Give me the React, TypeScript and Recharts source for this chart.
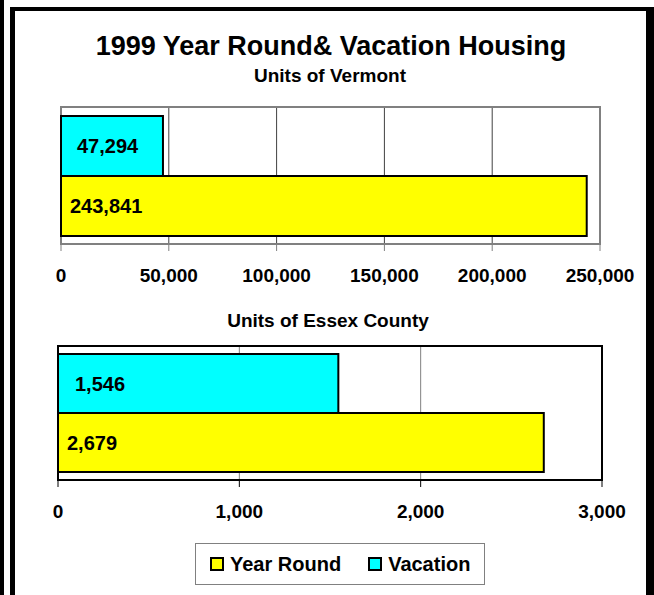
import React from 'react';
import { BarChart, Bar, XAxis, YAxis, CartesianGrid, ReferenceArea, LabelList } from 'recharts';

const regions = ['Vermont', 'Essex County'];
const yearRoundUnits = [243841, 2679];
const vacationUnits = [47294, 1546];
const seriesNames = ['Year Round', 'Vacation'];
const seriesColors = ['#ffff00', '#00ffff'];
const vermontTicks = [0, 50000, 100000, 150000, 200000, 250000];
const essexTicks = [0, 1000, 2000, 3000];

const FONT = '"Liberation Sans", Arial, sans-serif';
const fmt = (v: any) => Number(v).toLocaleString('en-US');

const vermontData = [{ name: regions[0], yearRound: yearRoundUnits[0], vacation: vacationUnits[0] }];
const essexData = [{ name: regions[1], yearRound: yearRoundUnits[1], vacation: vacationUnits[1] }];

const labelStyle = { fill: '#000', fontSize: 20, fontWeight: 700, fontFamily: FONT };
const tickStyle = { fill: '#000', fontSize: 19, fontWeight: 700, fontFamily: FONT };

export default function App() {
  return (
    <div style={{ position: 'absolute', left: 0, top: 0, width: 654, height: 595, overflow: 'hidden', background: '#fff', fontFamily: FONT }}>
      <div style={{ position: 'absolute', left: 0, top: 0, width: 4, height: 595, background: '#000' }} />
      <div style={{ position: 'absolute', left: 10, top: 7, width: 631, height: 620, borderTop: '4px solid #000', borderLeft: '5px solid #000', borderRight: '8px solid #000', background: '#fff' }} />

      <svg width={654} height={595} style={{ position: 'absolute', left: 0, top: 0 }}>
        <text x={331} y={55} textAnchor="middle" fontSize={27} fontWeight={700} fontFamily={FONT}>1999 Year Round&amp; Vacation Housing</text>
        <text x={330} y={82} textAnchor="middle" fontSize={19} fontWeight={700} fontFamily={FONT}>Units of {regions[0]}</text>
        <text x={328} y={327} textAnchor="middle" fontSize={19} fontWeight={700} fontFamily={FONT}>Units of {regions[1]}</text>
      </svg>

      <div style={{ position: 'absolute', left: 0, top: 0 }}>
        <BarChart width={654} height={300} data={vermontData} layout="vertical"
          margin={{ top: 107, right: 54, bottom: 16, left: 61 }} barCategoryGap={9} barGap={0}>
          <CartesianGrid horizontal={false} stroke="#404040" strokeWidth={1} />
          <XAxis type="number" domain={[0, 250000]} ticks={vermontTicks} tickFormatter={fmt} height={40}
            axisLine={{ stroke: '#808080', strokeWidth: 2 }} tickLine={{ stroke: '#808080' }} tickSize={7} tickMargin={18}
            tick={tickStyle} interval={0} />
          <YAxis type="category" dataKey="name" hide />
          <ReferenceArea x1={0} x2={250000} fill="none" stroke="#808080" strokeWidth={2} />
          <Bar dataKey="vacation" name={seriesNames[1]} fill={seriesColors[1]} stroke="#000" strokeWidth={2} isAnimationActive={false}>
            <LabelList dataKey="vacation" position="insideLeft" offset={16} formatter={fmt} style={labelStyle} />
          </Bar>
          <Bar dataKey="yearRound" name={seriesNames[0]} fill={seriesColors[0]} stroke="#000" strokeWidth={2} isAnimationActive={false}>
            <LabelList dataKey="yearRound" position="insideLeft" offset={9} formatter={fmt} style={labelStyle} />
          </Bar>
        </BarChart>
      </div>

      <div style={{ position: 'absolute', left: 0, top: 300 }}>
        <BarChart width={654} height={240} data={essexData} layout="vertical"
          margin={{ top: 46, right: 52, bottom: 20, left: 58 }} barCategoryGap={8} barGap={0}>
          <CartesianGrid horizontal={false} stroke="#808080" strokeWidth={1} />
          <XAxis type="number" domain={[0, 3000]} ticks={essexTicks} tickFormatter={fmt} height={40}
            axisLine={{ stroke: '#000', strokeWidth: 2 }} tickLine={{ stroke: '#000' }} tickSize={7} tickMargin={18}
            tick={tickStyle} interval={0} />
          <YAxis type="category" dataKey="name" hide />
          <ReferenceArea x1={0} x2={3000} fill="none" stroke="#000" strokeWidth={2} />
          <Bar dataKey="vacation" name={seriesNames[1]} fill={seriesColors[1]} stroke="#000" strokeWidth={2} isAnimationActive={false}>
            <LabelList dataKey="vacation" position="insideLeft" offset={17} formatter={fmt} style={labelStyle} />
          </Bar>
          <Bar dataKey="yearRound" name={seriesNames[0]} fill={seriesColors[0]} stroke="#000" strokeWidth={2} isAnimationActive={false}>
            <LabelList dataKey="yearRound" position="insideLeft" offset={9} formatter={fmt} style={labelStyle} />
          </Bar>
        </BarChart>
      </div>

      <div style={{ position: 'absolute', left: 195, top: 543, width: 290, height: 42, border: '1.5px solid #808080', display: 'flex', alignItems: 'center', paddingLeft: 14, boxSizing: 'border-box' }}>
        {seriesNames.map((n, i) => (
          <div key={n} style={{ display: 'flex', alignItems: 'center', marginRight: i === 0 ? 27 : 0 }}>
            <span style={{ width: 14, height: 14, boxSizing: 'border-box', border: '2px solid #000', background: seriesColors[i], marginRight: 6 }} />
            <span style={{ fontSize: 20, fontWeight: 700 }}>{n}</span>
          </div>
        ))}
      </div>
    </div>
  );
}
